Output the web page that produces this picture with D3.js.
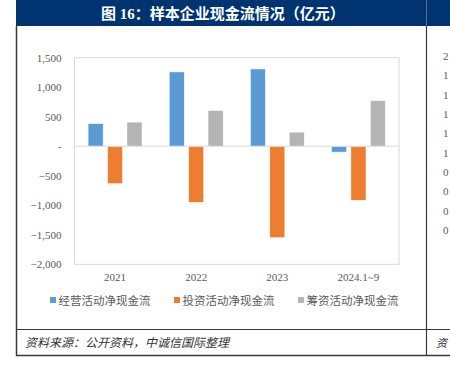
<!DOCTYPE html>
<html><head><meta charset="utf-8">
<script src="https://cdn.jsdelivr.net/npm/d3@7"></script>
<style>
html,body{margin:0;padding:0;background:#fff;overflow:hidden}
svg{display:block}
</style></head>
<body>
<svg id="c" width="450" height="371"></svg>
<script>
const title = "图 16：样本企业现金流情况（亿元）";
const source = "资料来源：公开资料，中诚信国际整理";
const nextSourceFragment = "资";
const categories = ["2021", "2022", "2023", "2024.1~9"];
const seriesNames = ["经营活动净现金流", "投资活动净现金流", "筹资活动净现金流"];
const colors = ["#5b9bd5", "#ed7d31", "#b4b4b4"];
const operating = [385, 1260, 1310, -100];
const investing = [-635, -950, -1550, -915];
const financing = [410, 605, 240, 775];
const yTicks = [1500, 1000, 500, 0, -500, -1000, -1500, -2000];
// first visible digit of the neighbouring panel's axis labels (cut by the page edge)
const nextPanelTicks = ["2", "1", "1", "1", "1", "1", "0", "0", "0", "0"];

(function () {
const series = [operating, investing, financing];
const svg = d3.select("#c");
const serif = "'Liberation Serif','DejaVu Serif',serif";
const cjk = "'Noto Sans CJK SC','Noto Sans',sans-serif";

// header band
svg.append("rect").attr("x", 16).attr("y", 0).attr("width", 434).attr("height", 26).attr("fill", "#003471");
svg.append("line").attr("x1", 426.5).attr("x2", 426.5).attr("y1", 0).attr("y2", 26).attr("stroke", "#5a6f94").attr("stroke-width", 1);
svg.append("text").attr("x", 223).attr("y", 18.5).attr("text-anchor", "middle")
  .attr("fill", "#fff").attr("font-family", "'Liberation Serif','Noto Sans CJK SC',serif")
  .attr("font-weight", "bold").attr("font-size", 15).text(title);

// frame lines
const frame = "#3a3a3a";
svg.append("line").attr("x1", 16.5).attr("x2", 16.5).attr("y1", 26).attr("y2", 355.5).attr("stroke", frame).attr("stroke-width", 1.5);
svg.append("line").attr("x1", 426.5).attr("x2", 426.5).attr("y1", 26).attr("y2", 355.5).attr("stroke", frame).attr("stroke-width", 1.2);
svg.append("line").attr("x1", 16).attr("x2", 450).attr("y1", 329.5).attr("y2", 329.5).attr("stroke", frame).attr("stroke-width", 1.2);
svg.append("line").attr("x1", 16).attr("x2", 450).attr("y1", 355.5).attr("y2", 355.5).attr("stroke", frame).attr("stroke-width", 1.5);

// source
svg.append("text").attr("x", 25).attr("y", 347).attr("fill", "#333").attr("font-style", "italic")
  .attr("font-family", cjk).attr("font-size", 12).text(source);
svg.append("text").attr("x", 436).attr("y", 347).attr("fill", "#333").attr("font-style", "italic")
  .attr("font-family", cjk).attr("font-size", 11).text(nextSourceFragment);

// neighbouring panel tick fragments
const yNext = d3.scalePoint().domain(d3.range(nextPanelTicks.length)).range([56, 230]);
svg.append("g").selectAll("text").data(nextPanelTicks).join("text")
  .attr("x", 443).attr("y", (d, i) => yNext(i) + 4).attr("fill", "#595959")
  .attr("font-family", serif).attr("font-size", 11).text(d => d);

// chart
const pl = 74.5, pr = 399, pt = 57.7, pb = 264.3;
const y = d3.scaleLinear().domain([-2000, 1500]).range([pb, pt]);
const x0 = d3.scaleBand().domain(categories).range([pl, pr]);
const x1 = d3.scaleBand().domain(d3.range(3)).range([0, 54]).paddingInner(0.22);
const groupOffset = (x0.bandwidth() - 54) / 2;

// plot frame
svg.append("rect").attr("x", pl).attr("y", pt).attr("width", pr - pl).attr("height", pb - pt)
  .attr("fill", "none").attr("stroke", "#d9d9d9").attr("stroke-width", 1);

// bars
series.forEach((vals, si) => {
  svg.append("g").selectAll("rect").data(vals).join("rect")
    .attr("x", (d, i) => x0(categories[i]) + groupOffset + x1(si))
    .attr("width", x1.bandwidth())
    .attr("y", d => y(Math.max(0, d)))
    .attr("height", d => Math.abs(y(d) - y(0)))
    .attr("fill", colors[si]).attr("stroke", "#fff").attr("stroke-width", 0.6);
});

// zero line
svg.append("line").attr("x1", pl).attr("x2", pr).attr("y1", y(0)).attr("y2", y(0))
  .attr("stroke", "#d9d9d9").attr("stroke-width", 1);

// y axis
const yAxis = d3.axisLeft(y).tickValues(yTicks).tickSize(0).tickPadding(13)
  .tickFormat(d => d === 0 ? "-" : d3.format(",")(d));
const ga = svg.append("g").attr("transform", `translate(${pl},0)`).call(yAxis);
ga.select(".domain").remove();
ga.selectAll("text").attr("fill", "#595959").attr("font-family", serif).attr("font-size", 11);

// x axis
const xAxis = d3.axisBottom(x0).tickSize(0).tickPadding(9);
const gx = svg.append("g").attr("transform", `translate(0,${pb})`).call(xAxis);
gx.select(".domain").remove();
gx.selectAll("text").attr("fill", "#595959").attr("font-family", serif).attr("font-size", 11);

// legend
const legX = [50, 174, 298];
const lg = svg.append("g");
seriesNames.forEach((n, i) => {
  lg.append("rect").attr("x", legX[i]).attr("y", 297).attr("width", 6).attr("height", 6).attr("fill", colors[i]);
  lg.append("text").attr("x", legX[i] + 8.5).attr("y", 304.5).attr("fill", "#595959")
    .attr("font-family", cjk).attr("font-size", 11.5).text(n);
});
})();
</script>
</body></html>
